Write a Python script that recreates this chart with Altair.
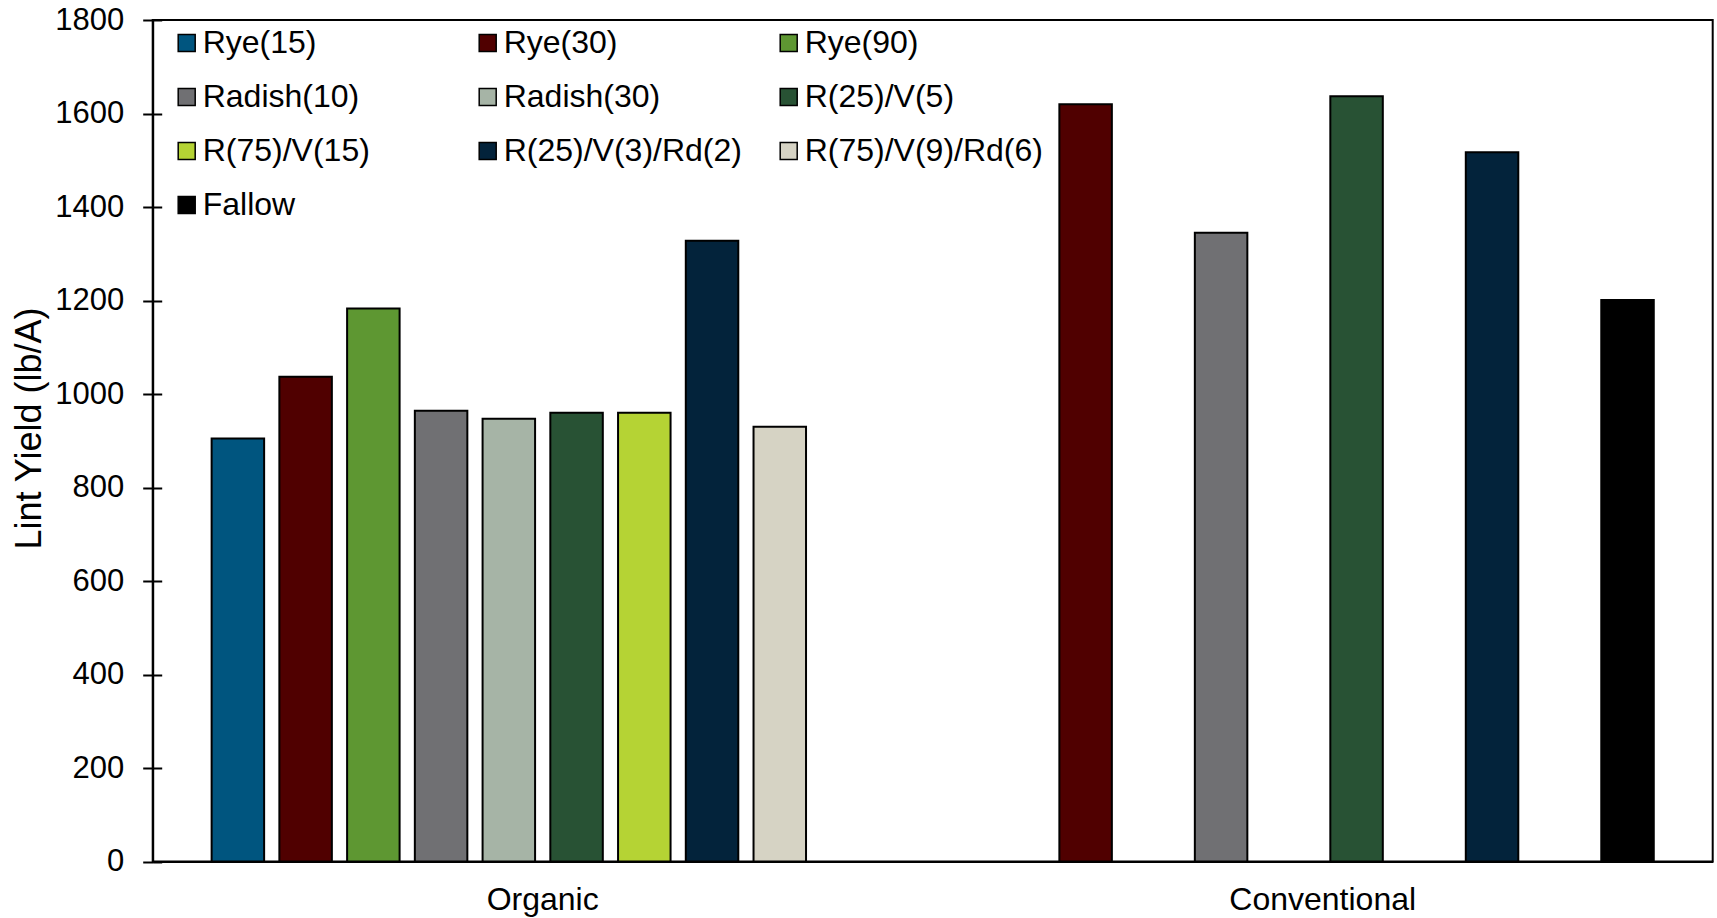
import altair as alt
import pandas as pd

# Cover-crop treatments (legend order) and their fill colours
series = ["Rye(15)", "Rye(30)", "Rye(90)", "Radish(10)", "Radish(30)",
          "R(25)/V(5)", "R(75)/V(15)", "R(25)/V(3)/Rd(2)", "R(75)/V(9)/Rd(6)", "Fallow"]
colors = ["#00557F", "#500000", "#5E9732", "#707073", "#A6B4A6",
          "#285234", "#B5D334", "#03233B", "#D6D3C4", "#000000"]

systems = ["Organic", "Conventional"]

# Lint yield (lb/A) per system
organic_series = ["Rye(15)", "Rye(30)", "Rye(90)", "Radish(10)", "Radish(30)",
                  "R(25)/V(5)", "R(75)/V(15)", "R(25)/V(3)/Rd(2)", "R(75)/V(9)/Rd(6)"]
organic_yield = [905, 1037, 1183, 964, 947, 960, 960, 1328, 930]

conventional_series = ["Rye(30)", "Radish(10)", "R(25)/V(5)", "R(25)/V(3)/Rd(2)", "Fallow"]
conventional_yield = [1620, 1345, 1637, 1517, 1201]

y_ticks = [0, 200, 400, 600, 800, 1000, 1200, 1400, 1600, 1800]

df = pd.concat([
    pd.DataFrame({"system": "Organic", "treatment": organic_series, "yield": organic_yield}),
    pd.DataFrame({"system": "Conventional", "treatment": conventional_series, "yield": conventional_yield}),
], ignore_index=True)

W, H = 1560, 841.5
FONT = "Liberation Sans"

y_scale = alt.Scale(domain=[0, 1800], nice=False)

bars = alt.Chart(df).mark_bar(stroke="black", strokeWidth=2).encode(
    x=alt.X("system:N", sort=systems, title=None,
            scale=alt.Scale(paddingInner=0, paddingOuter=0),
            axis=alt.Axis(labelAngle=0, ticks=False, labelFontSize=32, labelPadding=23,
                          labelLimit=0, labelColor="black", domainColor="black",
                          domainWidth=2)),
    xOffset=alt.XOffset("treatment:N",
                        scale=alt.Scale(domain=series, paddingInner=0.225, paddingOuter=0.87)),
    y=alt.Y("yield:Q", scale=y_scale, title="Lint Yield (lb/A)",
            axis=alt.Axis(values=y_ticks, format="d", grid=False, labelFontSize=31,
                          labelColor="black", labelPadding=19, tickSize=10, tickWidth=2,
                          tickColor="black", domainColor="black", domainWidth=2,
                          titleFontSize=36, titleFontWeight="normal", titleColor="black",
                          titleX=-123, titleY=408, titleBaseline="middle",
                          titleAngle=-90, titleAlign="center")),
    color=alt.Color("treatment:N", scale=alt.Scale(domain=series, range=colors),
                    legend=alt.Legend(orient="none", legendX=18, legendY=7, columns=3,
                                      direction="horizontal",
                                      title=None, symbolType="square", symbolSize=289,
                                      symbolStrokeColor="black", symbolStrokeWidth=1.5,
                                      symbolOpacity=1, labelFontSize=32, labelColor="black",
                                      labelFont=FONT, labelOffset=0, labelLimit=0,
                                      rowPadding=22, columnPadding=30, gridAlign="all",
                                      padding=0)),
)

# Inward half of the y ticks, drawn by a second axis sitting on the left edge
inner_ticks = alt.Chart(df).mark_point(opacity=0).encode(
    y=alt.Y("yield:Q", scale=y_scale,
            axis=alt.Axis(orient="right", offset=-W, values=y_ticks, labels=False,
                          domain=False, grid=False, tickSize=9, tickWidth=2,
                          tickColor="black", title=None)),
)

chart = alt.layer(bars, inner_ticks).resolve_axis(y="independent").properties(
    width=W, height=H,
    autosize=alt.AutoSizeParams(type="none"),
    padding={"left": 152.7, "top": 20, "right": 4.3, "bottom": 56.5},
    background="white",
).configure(font=FONT).configure_view(stroke="black", strokeWidth=2)

chart.save("out.html", embed_options={"renderer": "svg", "actions": False})
